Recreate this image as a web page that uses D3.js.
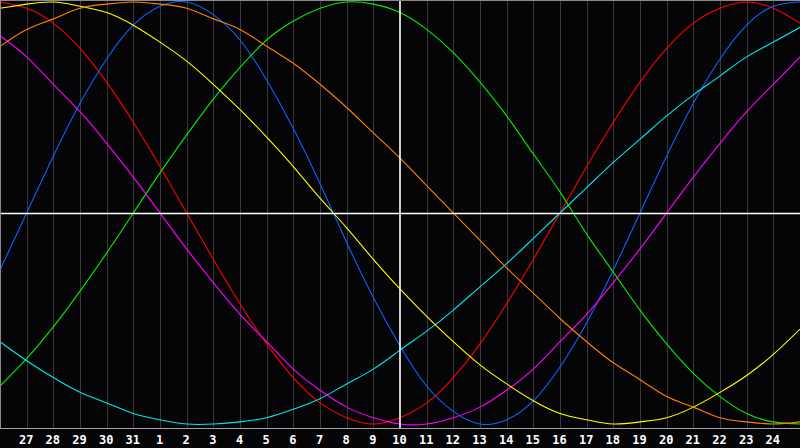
<!DOCTYPE html>
<html><head><meta charset="utf-8">
<script src="https://cdn.jsdelivr.net/npm/d3@7"></script>
<style>html,body{margin:0;padding:0;background:#050508;overflow:hidden}</style>
</head><body>
<svg id="chart" width="800" height="448"></svg>
<script>
// Day labels (index 0..30)
const days = [26,27,28,29,30,31,1,2,3,4,5,6,7,8,9,10,11,12,13,14,15,16,17,18,19,20,21,22,23,24,25];
const labelIdx = d3.range(1,30);
const todayIdx = 15;
// Series values (-100..100) per day
const red     = [100,97,90,78,62,43,22,0,-22,-43,-62,-78,-90,-97,-100,-97,-90,-78,-62,-43,-22,0,22,43,62,78,90,97,100,97,90];
const blue    = [-27,0,27,52,73,89,98,100,94,82,63,40,14,-14,-40,-63,-82,-94,-100,-98,-89,-73,-52,-27,0,27,52,73,89,98,100];
const green   = [-82,-69,-54,-37,-19,0,19,37,54,69,82,91,97,100,99,95,87,76,62,46,28,10,-10,-28,-46,-62,-76,-87,-95,-99,-100];
const cyan    = [-61,-70,-78,-85,-90,-95,-98,-100,-100,-99,-97,-93,-88,-81,-74,-65,-56,-46,-35,-24,-12,0,12,24,35,46,56,65,74,81,88];
const magenta = [84,74,61,48,33,17,0,-17,-33,-48,-61,-74,-84,-92,-97,-100,-100,-97,-92,-84,-74,-61,-48,-33,-17,0,17,33,48,61,74];
const yellow  = [97,99,100,98,95,89,81,72,61,49,36,22,7,-7,-22,-36,-49,-61,-72,-81,-89,-95,-98,-100,-99,-97,-92,-85,-77,-67,-55];
const orange  = [79,87,92,97,99,100,99,97,92,87,79,71,61,50,38,26,13,0,-13,-26,-38,-50,-61,-71,-79,-87,-92,-97,-99,-100,-99];
const seriesNames  = ["red","blue","green","cyan","magenta","yellow","orange"];
const seriesColors = ["#ff0000","#0a64ff","#00ee00","#00e8e8","#ff00ff","#ffff00","#ff7f00"];
const seriesData   = [red,blue,green,cyan,magenta,yellow,orange];

const W = 800, H = 448, plotBottom = 428;
const svg = d3.select("#chart");
const x = d3.scaleLinear().domain([0,30]).range([0,W]);
const y = d3.scaleLinear().domain([-100,100]).range([424,2]);

svg.append("rect").attr("width",W).attr("height",H).attr("fill","#050508");

// vertical grid
svg.append("g").selectAll("line").data(labelIdx.filter(i=>i!==todayIdx)).join("line")
  .attr("x1",d=>Math.round(x(d))+0.5).attr("x2",d=>Math.round(x(d))+0.5)
  .attr("y1",0).attr("y2",plotBottom)
  .attr("stroke","#393939").attr("stroke-width",1).attr("shape-rendering","crispEdges");

// curves
const line = d3.line().x((d,i)=>x(i)).y(d=>y(d)).curve(d3.curveNatural);
svg.append("g").selectAll("path").data(seriesData).join("path")
  .attr("d",line).attr("fill","none")
  .attr("stroke",(d,i)=>seriesColors[i]).attr("stroke-width",1.1);

// crosshair
svg.append("line").attr("x1",x(todayIdx)).attr("x2",x(todayIdx)).attr("y1",0).attr("y2",plotBottom)
  .attr("stroke","#ffffff").attr("stroke-width",1.6);
svg.append("line").attr("x1",0).attr("x2",W).attr("y1",y(0)+0.5).attr("y2",y(0)+0.5)
  .attr("stroke","#ffffff").attr("stroke-width",1.6);

// borders
svg.append("line").attr("x1",0).attr("x2",W).attr("y1",0.5).attr("y2",0.5).attr("stroke","#8a8a8a").attr("shape-rendering","crispEdges");
svg.append("line").attr("x1",0.5).attr("x2",0.5).attr("y1",0).attr("y2",plotBottom).attr("stroke","#8a8a8a").attr("shape-rendering","crispEdges");
svg.append("line").attr("x1",0).attr("x2",W).attr("y1",plotBottom+0.5).attr("y2",plotBottom+0.5).attr("stroke","#a0a0a0").attr("shape-rendering","crispEdges");

// x axis labels
const axis = d3.axisBottom(x).tickValues(labelIdx).tickFormat(i=>days[i]).tickSize(0).tickPadding(0);
const ag = svg.append("g").attr("transform",`translate(-1,${plotBottom})`).call(axis);
ag.select(".domain").remove();
ag.selectAll("text").attr("fill","#ffffff").attr("y",15.5).attr("dy",0)
  .style("font-family","'DejaVu Sans Mono', monospace").style("font-weight","bold").style("font-size","12px");
</script>
</body></html>
